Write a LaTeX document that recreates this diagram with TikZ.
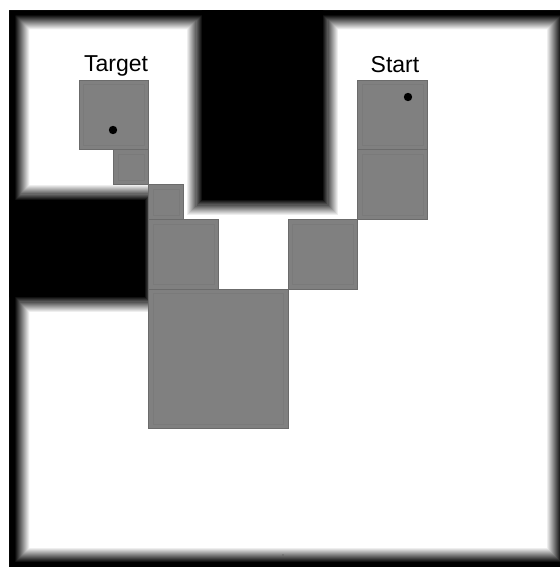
\documentclass[tikz,border=0pt]{standalone}
\usepackage{fontspec}
\setmainfont{Liberation Sans}
\begin{document}
\begin{tikzpicture}[x=1pt,y=-1pt,
  cell/.style={fill=black!50, draw=black!58, line width=0.9pt},
  cellinner/.style={draw=black!52, line width=0.4pt},
  label/.style={anchor=base, inner sep=0pt, font=\fontsize{23}{27}\selectfont},
  marker/.style={fill=black}]
\useasboundingbox (0,0) rectangle (559,567);
\fill[white] (0,0) rectangle (559,567);
% frame and obstacles with blurred (graded) edges
\begin{scope}
\clip (9.3,10.3) rectangle (567,568);
\foreach \k in {14,13,...,0}{
  \pgfmathsetmacro\shade{100*(1-\k/15)}
  \pgfmathsetmacro\ob{1.1*\k}
  \fill[black!\shade, even odd rule] (9.3,10.3) rectangle (567,568)
     ({9.3+6+\k},{10.3+5+\k}) rectangle ({567-6-\k},{568-6-\k});
  \fill[black!\shade] ({202-\ob},{0}) rectangle ({323+\ob},{200+\ob});
  \fill[black!\shade] ({0},{200-\ob}) rectangle ({145+\ob},{297+\ob});
}
\end{scope}
% grey cells on the grid
\begin{scope}[shift={(79,80)}, x=34.85pt, y=-34.85pt]
  \foreach \a/\b/\c/\d in {0/0/2/2, 1/2/2/3, 2/3/3/4, 2/4/4/6, 2/6/6/10, 6/4/8/6, 8/0/10/2, 8/2/10/4}{
    \path[cell] (\a,\b) rectangle (\c,\d);
    \draw[cellinner] (\a+0.13,\b+0.13) rectangle (\c-0.13,\d-0.13);
  }
\end{scope}
% markers
\fill[marker] (113,130) circle (4.2);
\fill[marker] (408,97) circle (4.2);
\fill[black!60] (283,555) circle (0.8);
% labels
\node[label] (target) at (116,72) {Target};
\node[label] (start) at (395,73) {Start};
\end{tikzpicture}
\end{document}
